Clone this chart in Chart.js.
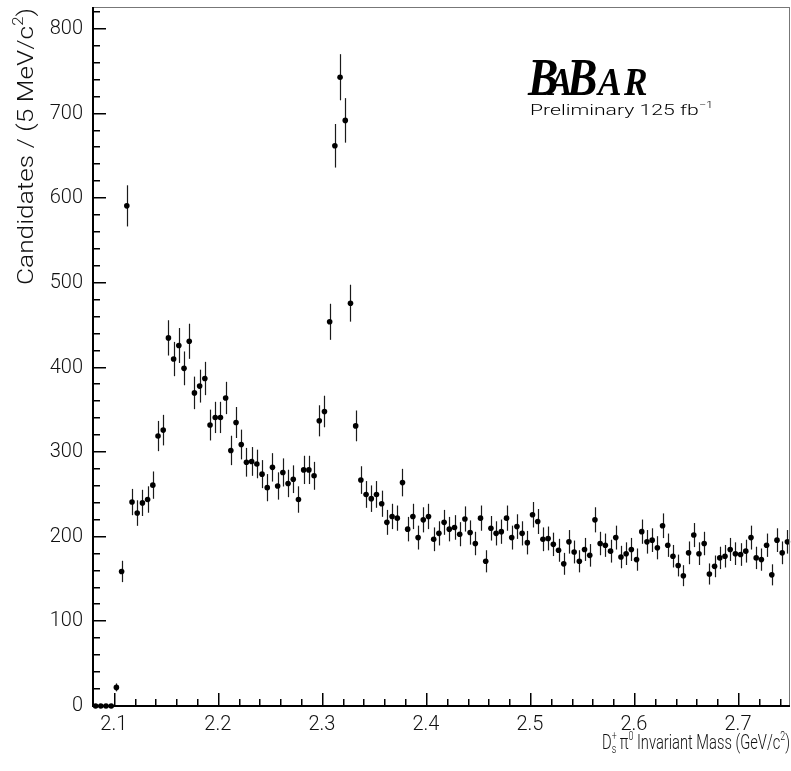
<!DOCTYPE html>
<html>
<head>
<meta charset="utf-8">
<script src="https://cdn.jsdelivr.net/npm/chart.js@4/dist/chart.umd.min.js"></script>
<style>
  html, body { margin: 0; padding: 0; background: #fff; overflow: hidden; }
  #plot { display: block; }
</style>
</head>
<body>
<canvas id="plot" width="794" height="771"></canvas>
<script>
// Ds+ pi0 invariant mass, 5 MeV bins from 2.08 to 2.75 GeV/c^2
var massMin = 2.08;
var massMax = 2.75;
var binWidth = 0.005;
var candidates = [
  0, 0, 0, 0, 22, 159, 591, 241, 228, 240,
  244, 261, 319, 326, 435, 410, 426, 399, 431, 370,
  378, 387, 332, 341, 341, 364, 302, 335, 309, 288,
  289, 286, 274, 258, 282, 260, 276, 263, 268, 244,
  279, 279, 272, 337, 348, 454, 662, 743, 692, 476,
  331, 267, 250, 245, 250, 239, 217, 224, 222, 264,
  209, 224, 199, 220, 224, 197, 204, 217, 209, 211,
  203, 221, 205, 192, 222, 171, 210, 204, 206, 222,
  199, 212, 204, 193, 226, 218, 197, 198, 191, 184,
  168, 194, 182, 171, 185, 178, 220, 192, 190, 183,
  199, 176, 180, 185, 173, 206, 194, 196, 187, 213,
  190, 177, 166, 154, 181, 202, 180, 192, 156, 165,
  175, 177, 185, 180, 179, 183, 199, 175, 173, 190,
  155, 196, 181, 194
];
var xTickLabels = [2.1, 2.2, 2.3, 2.4, 2.5, 2.6, 2.7];
var yTickLabels = [0, 100, 200, 300, 400, 500, 600, 700, 800];
var yMax = 826;

var points = candidates.map(function (n, i) {
  return { x: massMin + binWidth * (i + 0.5), y: n };
});

var FONT = 'Roboto, "Liberation Sans", Arial, sans-serif';
var INK = '#111';

// text pieces (some raised/lowered), squeezed or stretched to a given length, ending at x
function drawRich(ctx, segs, x, y, size, fitWidth) {
  var total = 0;
  segs.forEach(function (s) {
    ctx.font = '300 ' + Math.round(size * (s.k || 1)) + 'px ' + FONT;
    s.w = s.stack ? 0 : ctx.measureText(s.t).width;
    total += s.w;
  });
  var sx = fitWidth ? fitWidth / total : 1;
  ctx.save();
  ctx.translate(x - total * sx, y);
  ctx.scale(sx, 1);
  var cx = 0, last = 0;
  segs.forEach(function (s) {
    ctx.font = '300 ' + Math.round(size * (s.k || 1)) + 'px ' + FONT;
    var px = s.stack ? last : cx;
    ctx.fillText(s.t, px, s.dy || 0);
    if (!s.stack) { last = cx; cx += s.w; }
  });
  ctx.restore();
}

var histPlugin = {
  id: 'histDecor',
  beforeDatasetsDraw: function (chart) {
    var ctx = chart.ctx, xs = chart.scales.x, ys = chart.scales.y;
    ctx.save();
    ctx.strokeStyle = '#1a1a1a';
    ctx.lineWidth = 1.2;
    points.forEach(function (p) {
      if (p.y <= 0) return;
      var e = Math.sqrt(p.y);
      var px = Math.round(xs.getPixelForValue(p.x)) + 0.5;
      ctx.beginPath();
      ctx.moveTo(px, ys.getPixelForValue(p.y - e));
      ctx.lineTo(px, ys.getPixelForValue(Math.min(p.y + e, yMax)));
      ctx.stroke();
    });
    ctx.restore();
  },
  afterDraw: function (chart) {
    var ctx = chart.ctx, xs = chart.scales.x, ys = chart.scales.y;
    var a = chart.chartArea;
    var i, py, px, len;
    var left = Math.round(a.left), bottom = Math.round(a.bottom);
    var top = Math.round(a.top), right = Math.round(a.right);
    ctx.save();

    // frame
    ctx.fillStyle = '#777';
    ctx.fillRect(left, top, right - left, 1);
    ctx.fillRect(right - 1, top, 1, bottom - top);
    ctx.fillStyle = '#000';
    ctx.fillRect(left - 1, top, 2, bottom - top + 1);
    ctx.fillRect(left - 1, bottom - 1, right - left + 1, 2);

    // ticks, pointing inside
    ctx.fillStyle = '#000';
    for (i = 0; i <= 41; i++) {
      py = Math.round(ys.getPixelForValue(i * 20));
      len = (i % 5 === 0) ? 13 : 7;
      ctx.fillRect(left, py - 1, len, 1.5);
    }
    for (i = 104; i <= 137; i++) {   // every 0.02 GeV
      px = Math.round(xs.getPixelForValue(i * 0.02));
      if (px <= left + 1 || px >= right - 1) continue;
      len = (i % 5 === 0) ? 13 : 7;
      ctx.fillRect(px, bottom - len, 1.5, len);
    }

    // tick labels
    ctx.fillStyle = INK;
    ctx.font = '300 20px ' + FONT;
    ctx.textAlign = 'right';
    ctx.textBaseline = 'middle';
    yTickLabels.forEach(function (t) {
      ctx.fillText(String(t), left - 10, ys.getPixelForValue(t));
    });
    ctx.textAlign = 'center';
    ctx.textBaseline = 'top';
    xTickLabels.forEach(function (t) {
      ctx.fillText(t.toFixed(1), xs.getPixelForValue(t), bottom + 9);
    });

    // axis titles
    ctx.textAlign = 'left';
    ctx.textBaseline = 'alphabetic';
    drawRich(ctx, [
      { t: 'D' }, { t: 's', k: 0.62, dy: 4 }, { t: '+', k: 0.62, dy: -9, stack: true },
      { t: ' \u03c0' }, { t: '0', k: 0.62, dy: -9 },
      { t: ' Invariant Mass (GeV/c' }, { t: '2', k: 0.62, dy: -9 }, { t: ')' }
    ], 790, 749, 20, 188);

    ctx.save();
    ctx.translate(33, top + 1);
    ctx.rotate(-Math.PI / 2);
    drawRich(ctx, [
      { t: 'Candidates / (5 MeV/c' }, { t: '2', k: 0.62, dy: -10 }, { t: ')' }
    ], 0, 0, 22, 277);
    ctx.restore();

    // experiment label
    ctx.fillStyle = '#000';
    var letters = [
      { c: 'B', x: 528, big: true }, { c: 'A', x: 549 }, { c: 'B', x: 567, big: true },
      { c: 'A', x: 598 }, { c: 'R', x: 624 }
    ];
    letters.forEach(function (L) {
      ctx.save();
      ctx.translate(L.x, 95);
      ctx.scale(0.86, 1);
      ctx.font = 'italic bold ' + (L.big ? 53 : 41) + 'px "Liberation Serif", "Times New Roman", serif';
      ctx.fillText(L.c, 0, 0);
      ctx.restore();
    });
    drawRich(ctx, [
      { t: 'Preliminary 125 fb' }, { t: '\u22121', k: 0.62, dy: -7 }
    ], 713, 115, 15, 183);

    ctx.restore();
  }
};

var ctx = document.getElementById('plot').getContext('2d');
var chart = new Chart(ctx, {
  type: 'scatter',
  data: {
    datasets: [{
      label: 'Candidates',
      data: points,
      pointRadius: 2.8,
      pointBackgroundColor: '#000',
      pointBorderWidth: 0,
      clip: false
    }]
  },
  options: {
    responsive: false,
    animation: false,
    devicePixelRatio: 1,
    layout: { padding: { top: 7, right: 1, left: 0, bottom: 0 } },
    plugins: { legend: { display: false }, tooltip: { enabled: false } },
    scales: {
      x: {
        type: 'linear', min: massMin, max: massMax,
        grid: { display: false }, border: { display: false },
        ticks: { display: false },
        afterFit: function (s) { s.height = 65; }
      },
      y: {
        min: 0, max: yMax,
        grid: { display: false }, border: { display: false },
        ticks: { display: false },
        afterFit: function (s) { s.width = 93; }
      }
    }
  },
  plugins: [histPlugin]
});
</script>
</body>
</html>
